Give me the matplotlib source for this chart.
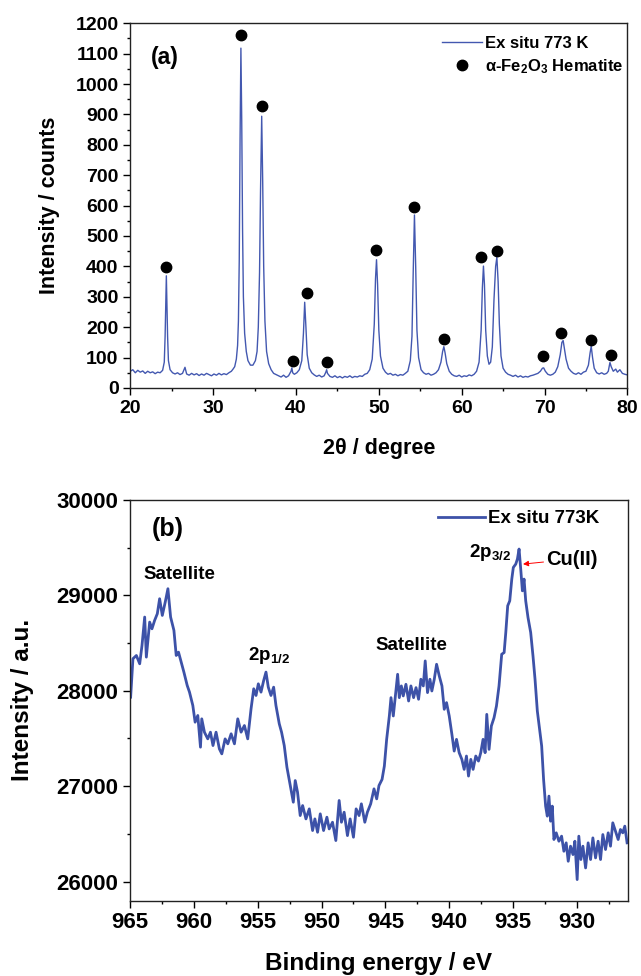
import matplotlib
matplotlib.use("Agg")
import matplotlib.pyplot as plt
from matplotlib.ticker import MultipleLocator

plt.rcParams['font.family'] = ['Liberation Sans', 'DejaVu Sans']
plt.rcParams['font.weight'] = 'bold'
plt.rcParams['mathtext.fontset'] = 'custom'
plt.rcParams['mathtext.rm'] = 'Liberation Sans:bold'
plt.rcParams['mathtext.bf'] = 'Liberation Sans:bold'
plt.rcParams['mathtext.it'] = 'Liberation Sans:bold:italic'

# ---------------- data: (a) XRD ----------------
xrd_2theta = [20.0, 20.3, 20.6, 20.9, 21.2, 21.5, 21.8, 22.1, 22.4, 22.7, 23.0, 23.3, 23.6, 23.9,
              24.1, 24.2, 24.3, 24.35, 24.4, 24.5, 24.6, 24.8, 25.1, 25.4, 25.7, 26.0, 26.3, 26.6,
              26.8, 27.1, 27.4, 27.7, 28.0, 28.3, 28.6, 28.9, 29.2, 29.5, 29.8, 30.1, 30.4, 30.7,
              31.0, 31.3, 31.6, 31.9, 32.2, 32.4, 32.6, 32.8, 32.95, 33.05, 33.15, 33.25, 33.35,
              33.45, 33.55, 33.65, 33.8, 34.0, 34.2, 34.5, 34.8, 35.1, 35.3, 35.45, 35.6, 35.72,
              35.86, 35.98, 36.1, 36.25, 36.45, 36.7, 37.0, 37.3, 37.6, 37.9, 38.2, 38.5, 38.8,
              39.1, 39.4, 39.5, 39.6, 39.8, 40.1, 40.4, 40.7, 40.9, 41.05, 41.2, 41.35, 41.6, 41.9,
              42.2, 42.5, 42.8, 43.1, 43.4, 43.6, 43.7, 43.8, 44.1, 44.4, 44.7, 45.0, 45.3, 45.6,
              45.9, 46.2, 46.5, 46.8, 47.1, 47.4, 47.7, 48.0, 48.3, 48.6, 48.9, 49.2, 49.45, 49.6,
              49.72, 49.85, 50.0, 50.2, 50.5, 50.8, 51.1, 51.4, 51.7, 52.0, 52.3, 52.6, 52.9, 53.2,
              53.5, 53.8, 54.0, 54.15, 54.3, 54.45, 54.6, 54.8, 55.1, 55.4, 55.7, 56.0, 56.3, 56.6,
              56.9, 57.2, 57.5, 57.7, 57.85, 58.0, 58.2, 58.5, 58.8, 59.1, 59.4, 59.7, 60.0, 60.3,
              60.6, 60.9, 61.2, 61.5, 61.8, 62.1, 62.35, 62.5, 62.63, 62.75, 62.9, 63.1, 63.3,
              63.5, 63.7, 63.9, 64.1, 64.25, 64.4, 64.55, 64.75, 65.0, 65.3, 65.6, 65.9, 66.2,
              66.5, 66.8, 67.1, 67.4, 67.7, 68.0, 68.3, 68.6, 68.9, 69.2, 69.5, 69.75, 69.9, 70.1,
              70.4, 70.7, 71.0, 71.3, 71.6, 71.9, 72.1, 72.25, 72.4, 72.6, 72.9, 73.2, 73.5, 73.8,
              74.1, 74.4, 74.7, 75.0, 75.3, 75.5, 75.64, 75.8, 76.0, 76.3, 76.6, 76.9, 77.2, 77.5,
              77.7, 77.9, 78.05, 78.3, 78.6, 78.8, 79.1, 79.4, 79.7, 80.0]
xrd_counts = [55, 60, 50, 58, 52, 56, 48, 55, 50, 53, 47, 52, 50, 58,
              85, 170, 300, 369, 300, 170, 90, 60, 50, 46, 50, 44, 48, 68,
              46, 42, 48, 43, 47, 41, 46, 42, 48, 44, 40, 46, 42, 48,
              43, 47, 44, 50, 55, 62, 70, 95, 140, 220, 420, 820, 1118,
              880, 520, 300, 180, 120, 90, 75, 75, 90, 120, 200, 380, 650,
              894, 680, 400, 220, 120, 80, 60, 48, 44, 40, 36, 42, 35,
              40, 55, 66, 50, 45, 50, 60, 90, 180, 282, 200, 110, 65, 50,
              43, 38, 42, 36, 40, 52, 60, 48, 38, 35, 40, 34, 38, 33,
              38, 35, 40, 34, 38, 36, 40, 38, 45, 48, 60, 95, 210, 360,
              422, 340, 190, 105, 65, 52, 45, 48, 42, 45, 40, 44, 42, 48,
              55, 90, 170, 380, 569, 400, 190, 100, 60, 50, 45, 48, 42, 45,
              50, 60, 85, 120, 136, 115, 80, 55, 45, 40, 38, 42, 36, 40,
              38, 43, 40, 45, 55, 85, 190, 330, 401, 340, 190, 105, 78,
              85, 135, 290, 400, 430, 350, 210, 105, 65, 52, 45, 42, 38,
              42, 36, 40, 35, 38, 36, 40, 42, 45, 48, 55, 65, 66, 55,
              45, 42, 45, 52, 70, 110, 150, 156, 130, 95, 65, 55, 48, 45,
              50, 45, 52, 55, 75, 115, 137, 100, 65, 50, 46, 50, 45, 48,
              55, 84, 70, 55, 62, 52, 60, 48, 45, 43]
hem_2theta = [24.3, 33.4, 35.85, 39.6, 41.3, 43.75, 49.7, 54.3, 57.85, 62.35, 64.3, 69.85, 72.0, 75.64, 78.0]
hem_counts = [397, 1160, 927, 90, 311, 85, 453, 596, 160, 431, 450, 104, 180, 159, 107]

# ---------------- data: (b) XPS ----------------
xps_ev = [964.95, 964.77, 964.5, 964.24, 964.06, 963.85, 963.72, 963.46, 963.28, 963.07, 962.86,
          962.68, 962.47, 962.24, 962.03, 961.82, 961.56, 961.38, 961.2, 960.99, 960.78, 960.52,
          960.34, 960.08, 959.9, 959.69, 959.48, 959.38, 959.17, 958.91, 958.7, 958.5, 958.26,
          958.0, 957.81, 957.55, 957.34, 957.08, 956.82, 956.56, 956.3, 956.04, 955.78, 955.52,
          955.31, 955.13, 954.95, 954.74, 954.53, 954.35, 954.17, 953.96, 953.75, 953.57, 953.31,
          953.13, 952.92, 952.71, 952.45, 952.21, 952.06, 951.88, 951.67, 951.48, 951.22, 950.96,
          950.7, 950.52, 950.31, 950.1, 949.84, 949.58, 949.4, 949.14, 948.88, 948.62, 948.44,
          948.23, 947.97, 947.76, 947.5, 947.29, 947.06, 946.88, 946.61, 946.41, 946.15, 945.89,
          945.68, 945.5, 945.26, 945.08, 944.9, 944.69, 944.56, 944.38, 944.22, 944.04, 943.91,
          943.75, 943.6, 943.39, 943.18, 943.0, 942.79, 942.6, 942.4, 942.22, 942.03, 941.88,
          941.7, 941.51, 941.36, 941.17, 940.99, 940.78, 940.57, 940.39, 940.21, 940.0, 939.79,
          939.61, 939.43, 939.22, 939.01, 938.83, 938.65, 938.49, 938.31, 938.13, 937.92, 937.71,
          937.53, 937.35, 937.19, 937.06, 936.88, 936.7, 936.49, 936.3, 936.1, 935.89, 935.7,
          935.57, 935.42, 935.26, 935.1, 934.98, 934.79, 934.66, 934.53, 934.4, 934.27, 934.14,
          934.01, 933.83, 933.62, 933.44, 933.28, 933.1, 932.92, 932.76, 932.61, 932.45, 932.32,
          932.19, 932.06, 931.93, 931.8, 931.62, 931.41, 931.2, 931.02, 930.84, 930.68, 930.5,
          930.31, 930.16, 929.98, 929.85, 929.69, 929.53, 929.32, 929.12, 928.93, 928.75, 928.54,
          928.34, 928.15, 927.97, 927.76, 927.55, 927.37, 927.19, 926.98, 926.77, 926.59, 926.41,
          926.25, 926.07]
xps_int = [27933, 28336, 28370, 28283, 28475, 28773, 28353, 28720, 28650, 28738, 28808,
           28965, 28790, 28930, 29070, 28773, 28633, 28370, 28405, 28300, 28196, 28056,
           27986, 27846, 27671, 27741, 27409, 27706, 27566, 27496, 27566, 27426, 27566,
           27391, 27339, 27496, 27444, 27549, 27444, 27706, 27566, 27636, 27496, 27811,
           28021, 27951, 28073, 27986, 28108, 28196, 28038, 27951, 28038, 27846, 27654,
           27566, 27426, 27199, 27007, 26832, 27059, 26937, 26692, 26797, 26657, 26762,
           26535, 26657, 26517, 26710, 26535, 26675, 26552, 26622, 26430, 26850, 26622,
           26727, 26482, 26657, 26465, 26762, 26692, 26815, 26622, 26727, 26815, 26972,
           26867, 27007, 27071, 27211, 27491, 27736, 27928, 27736, 27946, 28173, 27928,
           28051, 27946, 28068, 27893, 28051, 27928, 28033, 27911, 28121, 28051, 28313,
           27981, 28121, 27998, 28121, 28278, 28156, 28051, 27806, 27876, 27736, 27543,
           27368, 27491, 27351, 27281, 27176, 27316, 27106, 27281, 27176, 27316, 27263,
           27351, 27491, 27351, 27753, 27386, 27631, 27718, 27841, 28051, 28383, 28401,
           28611, 28891, 28943, 29171, 29293, 29328, 29381, 29486, 29276, 29048, 29171,
           28943, 28768, 28611, 28366, 28121, 27788, 27596, 27421, 27071, 26791, 26686,
           26896, 26633, 26791, 26441, 26511, 26423, 26476, 26318, 26406, 26213, 26371,
           26283, 26423, 26021, 26476, 26231, 26371, 26143, 26406, 26231, 26458, 26248,
           26423, 26231, 26493, 26336, 26511, 26371, 26616, 26528, 26441, 26546, 26511,
           26581, 26406]

xps_labels = ['Satellite', '2p$_{1/2}$', 'Satellite', '2p$_{3/2}$']
xps_label_ev = [961.1, 954.15, 942.93, 936.8]
xps_label_int = [29223, 28365, 28478, 29451]

fig = plt.figure(figsize=(6.41, 9.76), dpi=100)

# ---------------- panel (a) ----------------
ax1 = fig.add_axes([0.2033, 0.6025, 0.7754, 0.3737])
ax1.plot(xrd_2theta, xrd_counts, color='#4358b0', lw=1.0, label='Ex situ 773 K')
ax1.plot(hem_2theta, hem_counts, 'o', color='black', ms=7.5, label=r'α-Fe$_2$O$_3$ Hematite')
ax1.set_xlim(20, 80)
ax1.set_ylim(0, 1200)
ax1.xaxis.set_major_locator(MultipleLocator(10))
ax1.xaxis.set_minor_locator(MultipleLocator(5))
ax1.yaxis.set_major_locator(MultipleLocator(100))
ax1.yaxis.set_minor_locator(MultipleLocator(50))
ax1.tick_params(which='major', direction='out', length=5, width=1.0, labelsize=14)
ax1.tick_params(which='minor', direction='out', length=2.5, width=1.0)
ax1.set_xlabel('2θ / degree', fontsize=15.5, fontweight='bold', va='center')
ax1.set_ylabel('Intensity / counts', fontsize=15.5, fontweight='bold', va='center')
ax1.xaxis.set_label_coords(0.5, -0.165)
ax1.yaxis.set_label_coords(-0.163, 0.5)
ax1.text(0.07, 0.907, '(a)', transform=ax1.transAxes, fontsize=16.5, fontweight='bold',
         ha='center', va='center')
ax1.legend(loc='upper left', bbox_to_anchor=(0.627, 0.965), frameon=False,
           fontsize=12, handlelength=2.4, handletextpad=0.2, borderpad=0,
           borderaxespad=0, labelspacing=0.35)
for s in ax1.spines.values():
    s.set_linewidth(1.0)
    s.set_color('#222222')

# ---------------- panel (b) ----------------
ax2 = fig.add_axes([0.2028, 0.0772, 0.7769, 0.4105])
ax2.plot(xps_ev, xps_int, color='#3d52a8', lw=2.0, label='Ex situ 773K')
ax2.set_xlim(965, 926)
ax2.set_ylim(25800, 30000)
ax2.xaxis.set_major_locator(MultipleLocator(5))
ax2.xaxis.set_minor_locator(MultipleLocator(2.5))
ax2.yaxis.set_major_locator(MultipleLocator(1000))
ax2.yaxis.set_minor_locator(MultipleLocator(500))
ax2.tick_params(which='major', direction='out', length=5, width=1.0, labelsize=16)
ax2.tick_params(which='minor', direction='out', length=2.5, width=1.0)
ax2.set_xlabel('Binding energy / eV', fontsize=17.5, fontweight='bold', va='center')
ax2.set_ylabel('Intensity / a.u.', fontsize=17.5, fontweight='bold', va='center')
ax2.xaxis.set_label_coords(0.5, -0.156)
ax2.yaxis.set_label_coords(-0.216, 0.5)
ax2.text(0.0755, 0.9275, '(b)', transform=ax2.transAxes, fontsize=18, fontweight='bold',
         ha='center', va='center')
for lab, xe, yi in zip(xps_labels, xps_label_ev, xps_label_int):
    ax2.text(xe, yi, lab, fontsize=13.5, fontweight='bold', ha='center', va='center')
ax2.annotate('Cu(II)', xy=(934.22, 29328), xytext=(932.4, 29380),
             fontsize=14.5, fontweight='bold', ha='left', va='center',
             arrowprops=dict(arrowstyle='-|>', color='red', lw=0.7,
                             mutation_scale=8, shrinkA=0, shrinkB=0))
ax2.legend(loc='upper left', bbox_to_anchor=(0.618, 0.975), frameon=False,
           fontsize=13.5, handlelength=2.5, handletextpad=0.2, borderpad=0, borderaxespad=0)
for s in ax2.spines.values():
    s.set_linewidth(1.0)
    s.set_color('#222222')

fig.savefig('out.png', dpi=100)
